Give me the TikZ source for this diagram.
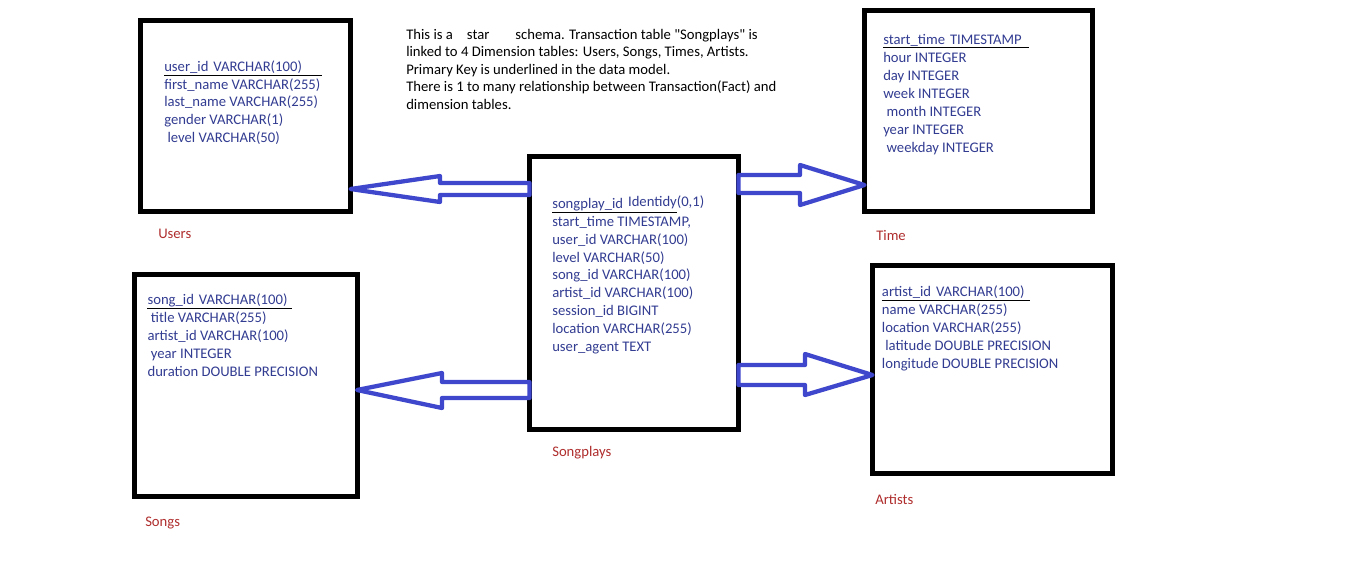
\documentclass[tikz,border=0pt]{standalone}
\usepackage{fontspec}
\setmainfont{Carlito}
\definecolor{fieldblue}{RGB}{50,60,145}
\definecolor{labelred}{RGB}{175,45,45}
\definecolor{arrowblue}{RGB}{63,72,204}
\tikzset{
  tablebox/.style={draw=black, line width=3.75pt, inner sep=0pt, outer sep=0pt},
  field/.style={anchor=base west, inner sep=0pt, text=fieldblue, font=\fontsize{11}{13.3}\selectfont},
  keyfield/.style={field, text depth=2.6pt, text width=#1, align=left},
  keyline/.style={draw=black, line width=0.75pt},
  tablename/.style={anchor=base west, inner sep=0pt, text=labelred, font=\fontsize{11}{13.3}\selectfont},
  note/.style={anchor=base west, inner sep=0pt, align=left, font=\fontsize{11}{13.125}\selectfont},
  fatarrow/.style={draw=arrowblue, line width=3.2pt, line join=round, fill=white}
}
\begin{document}
\begin{tikzpicture}[x=0.75pt, y=-0.75pt]
  \useasboundingbox (0,0) rectangle (1360,572);

  % tables
  \node[tablebox, minimum width=157.5pt, minimum height=143.25pt] (users) at (245.5,115.5) {};
  \node[tablebox, minimum width=171pt, minimum height=150.75pt] (time) at (978.5,111) {};
  \node[tablebox, minimum width=156.75pt, minimum height=204.4pt] (songplays) at (634,293.25) {};
  \node[tablebox, minimum width=166.9pt, minimum height=166.5pt] (songs) at (245.75,385.5) {};
  \node[tablebox, minimum width=180pt, minimum height=156pt] (artists) at (992.5,369.5) {};

  % note (base is the last line)
  \node[note] (note) at (406,109.3) {This is a\hspace{10.5pt}star\hspace{19.5pt}schema. Transaction table \textquotedbl Songplays\textquotedbl\ is\\
    linked to 4 Dimension tables: Users, Songs, Times, Artists.\\
    Primary Key is underlined in the data model.\\
    There is 1 to many relationship between Transaction(Fact) and\\
    dimension tables.};

  % users
  \node[keyfield=117.75pt] (userskey) at (164,71.7) {user\_id VARCHAR(100)};
  \draw[keyline] (userskey.south west) -- (userskey.south east);
  \foreach \f [count=\i] in {first\_name VARCHAR(255), last\_name VARCHAR(255), gender VARCHAR(1), \ level VARCHAR(50)}
    \node[field] (users-\i) at (164,71.7+17.6*\i) {\f};
  \node[tablename] (userslabel) at (158,238.5) {Users};

  % time
  \node[keyfield=108.75pt] (timekey) at (883,44) {start\_time TIMESTAMP};
  \draw[keyline] (timekey.south west) -- (timekey.south east);
  \foreach \f [count=\i] in {hour INTEGER, day INTEGER, week INTEGER, \ month INTEGER, year INTEGER, \ weekday INTEGER}
    \node[field] (time-\i) at (883,44+18.1*\i) {\f};
  \node[tablename] (timelabel) at (876,240) {Time};

  % songplays
  \node[keyfield=93pt] (songplayskey) at (552,208.3) {\mbox{songplay\_id \raisebox{1.5pt}{Identidy(0,1)}}};
  \draw[keyline] (songplayskey.south west) -- (songplayskey.south east);
  \foreach \f [count=\i] in {{start\_time TIMESTAMP,}, user\_id VARCHAR(100), level VARCHAR(50), song\_id VARCHAR(100), artist\_id VARCHAR(100), session\_id BIGINT, location VARCHAR(255), user\_agent TEXT}
    \node[field] (songplays-\i) at (552,208.3+17.9*\i) {\f};
  \node[tablename] (songplayslabel) at (552,456.5) {Songplays};

  % songs
  \node[keyfield=107.8pt] (songskey) at (147.3,304.3) {song\_id VARCHAR(100)};
  \draw[keyline] (songskey.south west) -- (songskey.south east);
  \foreach \f [count=\i] in {\ title VARCHAR(255), artist\_id VARCHAR(100), \ year INTEGER, duration DOUBLE PRECISION}
    \node[field] (songs-\i) at (147.3,304.3+18*\i) {\f};
  \node[tablename] (songslabel) at (145,526) {Songs};

  % artists
  \node[keyfield=111pt] (artistskey) at (881.7,296.7) {artist\_id VARCHAR(100)};
  \draw[keyline] (artistskey.south west) -- (artistskey.south east);
  \foreach \f [count=\i] in {name VARCHAR(255), location VARCHAR(255), \ latitude DOUBLE PRECISION, longitude DOUBLE PRECISION}
    \node[field] (artists-\i) at (881.7,296.7+18*\i) {\f};
  \node[tablename] (artistslabel) at (875,504) {Artists};

  % fat arrows
  \draw[fatarrow] (songplays.west |- 0,183) -- (440,183) -- (440,176) -- (users.east |- 0,189)
    -- (440,202) -- (440,195) -- (songplays.west |- 0,195) -- cycle;
  \draw[fatarrow] (songplays.west |- 0,382) -- (442,382) -- (442,373) -- (songs.east |- 0,390)
    -- (442,408) -- (442,398) -- (songplays.west |- 0,398) -- cycle;
  \draw[fatarrow] (songplays.east |- 0,175) -- (800,175) -- (800,165) -- (time.west |- 0,185)
    -- (800,205) -- (800,193) -- (songplays.east |- 0,193) -- cycle;
  \draw[fatarrow] (songplays.east |- 0,365) -- (805,365) -- (805,354) -- (artists.west |- 0,375)
    -- (805,395) -- (805,385) -- (songplays.east |- 0,385) -- cycle;
\end{tikzpicture}
\end{document}
